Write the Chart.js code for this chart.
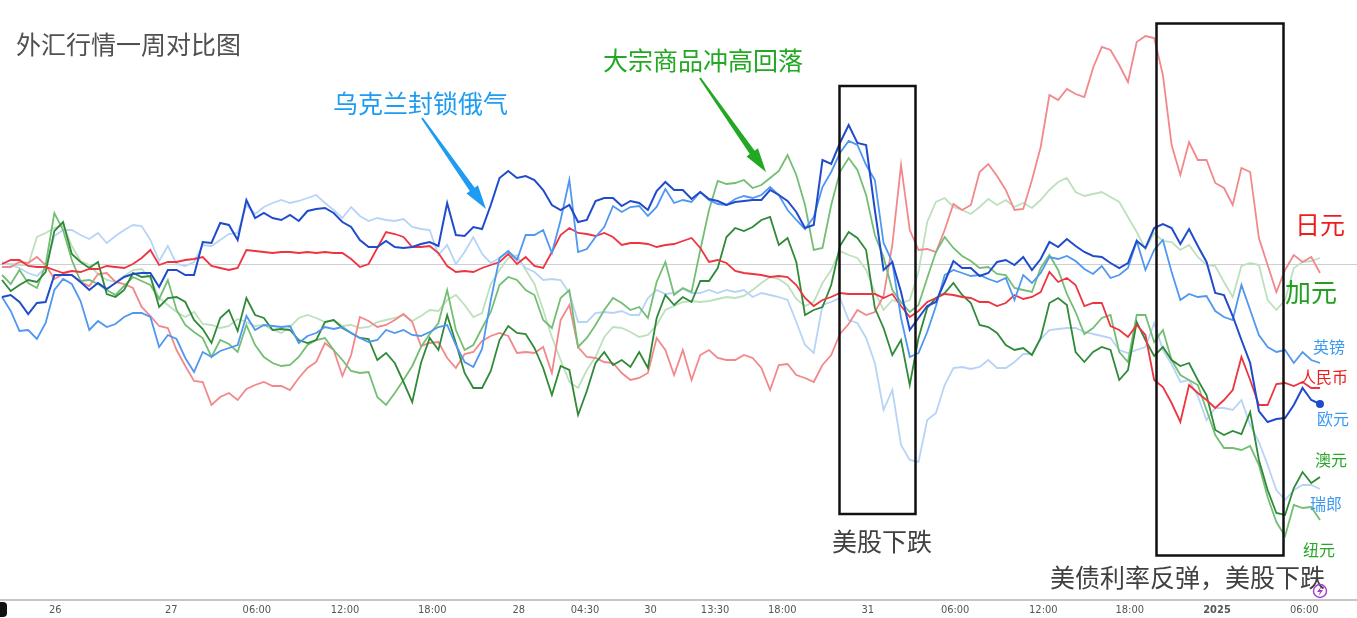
<!DOCTYPE html>
<html>
<head>
<meta charset="utf-8">
<script src="https://cdn.jsdelivr.net/npm/chart.js@4.4.1/dist/chart.umd.min.js"></script>
<style>
  html, body { margin: 0; padding: 0; background: #fff; }
  #wrap { position: relative; width: 1357px; height: 618px; }
</style>
</head>
<body>
<div id="wrap"><canvas id="fxChart"></canvas></div>
<script>
// x axis ticks (positions in 36-minute bars from the left edge)
const tickLabels = ['26', '27', '06:00', '12:00', '18:00', '28', '04:30', '30', '13:30', '18:00', '31', '06:00', '12:00', '18:00', '2025', '06:00'];
const tickAt = [6.1, 19.4, 29.2, 39.3, 49.3, 59.2, 66.8, 74.3, 81.7, 89.4, 99.2, 109.2, 119.3, 129.2, 139.2, 149.2];

// % change per bar
const eur = [-0.33,-0.31,-0.38,-0.50,-0.39,-0.38,-0.11,-0.11,-0.11,-0.18,
  -0.26,-0.19,-0.25,-0.19,-0.13,-0.10,-0.09,-0.09,-0.23,-0.06,
  -0.06,-0.11,-0.11,0.22,0.21,0.41,0.39,0.24,0.64,0.46,
  0.51,0.46,0.44,0.49,0.43,0.53,0.55,0.56,0.51,0.42,
  0.37,0.24,0.17,0.17,0.23,0.17,0.16,0.17,0.20,0.22,
  0.18,0.61,0.29,0.28,0.37,0.35,0.59,0.86,0.93,0.86,
  0.88,0.84,0.74,0.59,0.54,0.59,0.42,0.44,0.63,0.66,
  0.66,0.58,0.63,0.61,0.54,0.73,0.82,0.74,0.74,0.65,
  0.72,0.65,0.63,0.59,0.62,0.63,0.64,0.64,0.74,0.69,
  0.63,0.52,0.36,0.39,1.04,1.00,1.21,1.39,1.21,1.19,
  0.54,-0.06,0.02,-0.28,-0.66,-0.54,-0.42,-0.38,-0.18,0.03,
  -0.04,-0.04,-0.12,-0.09,0.02,0.04,-0.01,0.07,-0.06,0.05,
  0.22,0.17,0.25,0.18,0.12,0.08,0.07,0.01,-0.04,0.01,
  0.23,0.16,0.36,0.40,0.36,0.20,0.35,0.18,0.02,-0.29,
  -0.31,-0.52,-0.76,-0.99,-1.47,-1.58,-1.55,-1.54,-1.41,-1.24,
  -1.36,-1.40];

const gbp = [-0.33,-0.47,-0.67,-0.66,-0.75,-0.59,-0.26,-0.15,-0.20,-0.37,
  -0.66,-0.57,-0.63,-0.60,-0.53,-0.49,-0.49,-0.53,-0.83,-0.71,
  -0.75,-0.94,-1.08,-0.88,-0.93,-0.87,-0.84,-0.81,-0.52,-0.66,
  -0.61,-0.62,-0.63,-0.62,-0.79,-0.72,-0.69,-0.63,-0.65,-0.63,
  -0.69,-0.74,-0.78,-0.76,-0.66,-0.69,-0.66,-0.71,-0.72,-0.68,
  -0.63,-0.61,-0.81,-0.98,-1.03,-0.85,-0.36,0.06,0.13,0.04,
  0.29,0.29,0.34,0.11,0.44,0.84,0.12,0.15,0.27,0.37,
  0.58,0.52,0.57,0.58,0.48,0.57,0.75,0.61,0.64,0.62,
  0.72,0.64,0.60,0.59,0.65,0.68,0.66,0.69,0.77,0.69,
  0.54,0.44,0.35,0.47,0.77,0.92,1.11,1.23,1.19,0.99,
  0.84,0.21,0.02,-0.54,-0.93,-0.89,-0.68,-0.42,-0.11,-0.06,
  -0.09,-0.12,-0.11,-0.15,-0.18,-0.14,-0.36,-0.11,-0.19,-0.09,
  0.07,0.05,0.08,0.03,-0.05,-0.10,-0.02,-0.14,-0.11,-0.04,
  0.23,-0.06,0.14,0.24,-0.08,-0.36,-0.30,-0.33,-0.32,-0.47,
  -0.53,-0.56,-0.21,-0.46,-0.71,-0.83,-0.88,-0.86,-0.99,-0.88,
  -0.96,-0.99];

const chf = [0.02,-0.01,-0.04,-0.09,-0.12,-0.04,0.28,0.34,0.34,0.29,
  0.25,0.31,0.21,0.28,0.34,0.39,0.38,0.24,0.03,0.18,
  0.00,-0.02,0.02,0.19,0.18,0.24,0.30,0.31,0.59,0.50,
  0.57,0.61,0.64,0.61,0.63,0.66,0.69,0.61,0.54,0.46,
  0.57,0.48,0.43,0.46,0.44,0.43,0.45,0.37,0.35,0.34,
  0.09,0.19,0.00,0.12,0.27,0.10,0.01,0.06,0.12,0.06,
  -0.04,-0.08,-0.16,-0.15,-0.16,-0.29,-0.58,-0.58,-0.49,-0.48,
  -0.49,-0.47,-0.51,-0.51,-0.34,-0.26,-0.30,-0.29,-0.25,-0.29,
  -0.29,-0.26,-0.29,-0.26,-0.28,-0.26,-0.33,-0.29,-0.31,-0.33,
  -0.36,-0.58,-0.81,-0.89,-0.41,-0.38,-0.34,-0.56,-0.59,-0.74,
  -0.99,-1.46,-1.26,-1.81,-1.96,-1.98,-1.56,-1.49,-1.21,-1.04,
  -1.03,-1.05,-1.03,-0.96,-1.04,-1.04,-0.98,-0.90,-0.90,-0.75,
  -0.66,-0.65,-0.64,-0.64,-0.68,-0.70,-0.72,-0.74,-0.86,-0.89,
  -0.86,-0.83,-0.59,-0.86,-1.00,-1.18,-1.16,-1.32,-1.56,-1.44,
  -1.44,-1.46,-1.36,-1.61,-1.78,-2.01,-2.26,-2.36,-2.26,-2.21,
  -2.21,-2.25];

const cny = [0.00,0.04,0.04,-0.02,-0.03,-0.03,-0.06,-0.09,-0.07,-0.08,
  -0.05,-0.05,-0.02,-0.03,-0.04,0.00,0.06,0.14,-0.01,0.02,
  0.02,0.04,0.05,0.07,-0.02,-0.04,-0.06,-0.04,0.14,0.13,
  0.12,0.11,0.12,0.12,0.11,0.12,0.11,0.12,0.11,0.11,
  0.05,-0.03,0.00,0.16,0.32,0.30,0.27,0.17,0.17,0.18,
  0.11,-0.02,-0.08,-0.07,-0.08,-0.04,-0.01,0.02,0.10,0.00,
  0.07,-0.02,-0.04,0.12,0.29,0.36,0.31,0.30,0.28,0.31,
  0.27,0.19,0.21,0.21,0.20,0.17,0.19,0.20,0.23,0.26,
  0.16,0.02,0.04,0.01,-0.07,-0.09,-0.10,-0.11,-0.13,-0.12,
  -0.13,-0.21,-0.34,-0.42,-0.36,-0.33,-0.29,-0.30,-0.30,-0.30,
  -0.30,-0.34,-0.30,-0.42,-0.53,-0.47,-0.38,-0.34,-0.30,-0.31,
  -0.33,-0.34,-0.38,-0.38,-0.42,-0.39,-0.31,-0.35,-0.33,-0.28,
  -0.08,-0.18,-0.14,-0.21,-0.42,-0.39,-0.39,-0.62,-0.66,-0.73,
  -0.61,-0.71,-1.16,-1.23,-1.39,-1.58,-1.21,-1.29,-1.36,-1.44,
  -1.36,-1.26,-0.93,-1.16,-1.41,-1.41,-1.20,-1.19,-1.22,-1.18,
  -1.24,-1.24];

const jpy = [-0.03,-0.03,0.02,0.01,0.07,-0.01,-0.15,-0.10,-0.11,-0.18,
  -0.22,-0.10,-0.09,-0.18,-0.20,-0.24,-0.43,-0.52,-0.62,-0.64,
  -0.86,-1.02,-1.17,-1.18,-1.41,-1.33,-1.29,-1.36,-1.25,-1.21,
  -1.18,-1.22,-1.22,-1.26,-1.14,-1.04,-0.98,-0.79,-0.86,-1.12,
  -0.91,-0.53,-0.57,-0.63,-0.61,-0.56,-0.50,-0.58,-0.82,-0.79,
  -0.78,-0.94,-1.04,-0.90,-0.88,-0.77,-0.72,-0.69,-0.72,-0.89,
  -0.88,-0.89,-0.83,-1.09,-0.56,-0.41,-0.83,-0.93,-0.94,-0.98,
  -0.99,-1.09,-1.16,-1.14,-1.09,-0.74,-0.86,-1.11,-0.86,-1.16,
  -0.91,-0.86,-0.94,-0.96,-0.96,-0.91,-0.94,-1.04,-1.26,-1.01,
  -1.00,-1.11,-1.14,-1.18,-1.01,-0.91,-0.70,-0.60,-0.46,-0.51,
  -0.48,-0.32,0.19,0.99,0.34,0.14,0.15,0.12,0.34,0.60,
  0.54,0.59,0.92,1.00,0.88,0.74,0.54,0.55,0.84,1.17,
  1.69,1.64,1.75,1.70,1.67,1.96,2.17,2.14,1.99,1.82,
  2.22,2.28,2.26,1.89,1.19,0.89,1.22,1.04,1.04,0.81,
  0.76,0.59,0.96,0.92,0.26,-0.01,-0.28,-0.06,0.09,0.02,
  0.07,-0.09];

const aud = [-0.16,-0.27,-0.21,-0.16,-0.18,-0.08,0.33,0.42,0.10,0.02,
  -0.04,0.02,-0.30,-0.33,-0.26,-0.09,-0.13,-0.12,-0.43,-0.34,
  -0.33,-0.38,-0.56,-0.65,-0.79,-0.54,-0.46,-0.67,-0.34,-0.51,
  -0.54,-0.66,-0.65,-0.66,-0.76,-0.79,-0.76,-0.58,-0.56,-0.64,
  -0.69,-0.74,-0.75,-0.96,-0.89,-0.99,-1.18,-1.38,-0.99,-0.74,
  -0.86,-0.51,-0.79,-1.09,-1.24,-1.24,-1.07,-0.76,-0.62,-0.69,
  -0.70,-0.84,-1.04,-1.31,-1.02,-1.06,-1.51,-1.27,-0.99,-0.88,
  -1.01,-0.96,-1.03,-0.88,-1.04,-0.54,-0.31,-0.41,-0.33,-0.38,
  -0.17,-0.17,-0.04,0.27,0.36,0.33,0.37,0.44,0.47,0.19,
  0.26,0.02,-0.51,-0.46,-0.43,-0.21,0.18,0.32,0.26,0.14,
  -0.44,-0.64,-0.91,-0.76,-1.21,-0.74,-0.44,-0.34,-0.29,-0.19,
  -0.31,-0.39,-0.61,-0.63,-0.69,-0.81,-0.86,-0.84,-0.91,-0.74,
  -0.39,-0.34,-0.41,-0.88,-0.98,-0.88,-0.83,-0.86,-1.16,-1.06,
  -0.58,-0.76,-0.92,-0.83,-0.96,-1.02,-0.99,-1.16,-1.31,-1.66,
  -1.71,-1.67,-1.70,-1.48,-1.96,-2.26,-2.49,-2.51,-2.24,-2.08,
  -2.19,-2.13];

const nzd = [-0.11,-0.20,-0.06,-0.19,-0.24,-0.01,0.51,0.34,0.04,-0.17,
  -0.16,-0.20,-0.26,-0.31,-0.22,-0.13,-0.17,-0.21,-0.35,-0.16,
  -0.46,-0.61,-0.68,-0.74,-0.93,-0.76,-0.80,-0.88,-0.61,-0.81,
  -0.93,-0.99,-1.02,-1.01,-0.93,-0.81,-0.76,-0.74,-0.86,-0.96,
  -1.07,-1.09,-1.08,-1.33,-1.41,-1.29,-1.16,-1.02,-0.83,-0.70,
  -0.59,-0.26,-0.66,-0.86,-0.81,-0.64,-0.48,-0.21,-0.13,-0.16,
  -0.26,-0.31,-0.56,-0.64,-0.34,-0.26,-0.83,-0.74,-0.61,-0.46,
  -0.34,-0.39,-0.46,-0.43,-0.54,-0.18,0.02,-0.31,-0.24,-0.28,
  0.14,0.54,0.83,0.80,0.81,0.84,0.76,0.79,0.86,0.93,
  1.09,0.89,0.59,0.14,0.16,0.59,0.92,1.06,0.94,0.69,
  0.29,0.07,-0.26,-0.38,-0.48,-0.41,-0.14,0.12,0.27,0.16,
  0.08,0.03,-0.04,-0.03,-0.10,-0.11,-0.24,-0.26,-0.28,-0.04,
  0.09,-0.06,-0.30,-0.48,-0.70,-0.64,-0.54,-0.51,-0.88,-0.98,
  -0.51,-0.51,-0.78,-0.66,-0.96,-1.11,-1.16,-1.21,-1.46,-1.71,
  -1.84,-1.84,-1.86,-1.82,-2.01,-2.33,-2.58,-2.72,-2.41,-2.44,
  -2.43,-2.56];

const cad = [0.00,0.00,-0.01,-0.01,0.27,0.31,0.36,0.39,0.18,0.03,
  -0.01,-0.10,-0.16,-0.18,-0.12,-0.06,-0.05,-0.14,-0.34,-0.41,
  -0.48,-0.53,-0.48,-0.60,-0.61,-0.64,-0.62,-0.55,-0.58,-0.62,
  -0.61,-0.66,-0.69,-0.63,-0.54,-0.51,-0.54,-0.58,-0.56,-0.62,
  -0.61,-0.64,-0.63,-0.58,-0.56,-0.54,-0.51,-0.57,-0.52,-0.46,
  -0.47,-0.36,-0.31,-0.41,-0.53,-0.49,-0.20,-0.06,0.06,0.09,
  -0.06,-0.20,-0.46,-0.73,-0.96,-1.18,-1.24,-1.06,-0.93,-0.73,
  -0.63,-0.64,-0.68,-0.73,-0.71,-0.61,-0.46,-0.42,-0.38,-0.37,
  -0.38,-0.37,-0.35,-0.33,-0.34,-0.32,-0.26,-0.19,-0.13,-0.15,
  -0.21,-0.35,-0.42,-0.38,-0.19,-0.06,0.13,0.09,0.06,-0.06,
  -0.28,-0.46,-0.36,-0.39,-0.36,-0.08,0.42,0.62,0.66,0.57,
  0.54,0.50,0.57,0.65,0.59,0.64,0.57,0.61,0.56,0.64,
  0.74,0.82,0.86,0.72,0.68,0.70,0.72,0.67,0.62,0.47,
  0.32,0.15,0.31,0.23,0.22,0.14,0.19,0.07,-0.01,-0.02,
  -0.18,-0.33,-0.02,0.01,-0.01,-0.36,-0.46,-0.36,-0.04,0.02,
  0.03,0.06];

function pts(arr) {
  return arr.map((v, i) => ({ x: i, y: v }));
}

function line(label, arr, color, width, order) {
  return {
    label: label,
    data: pts(arr),
    borderColor: color,
    backgroundColor: color,
    borderWidth: width,
    pointRadius: 0,
    tension: 0,
    fill: false,
    order: order
  };
}

// plain arrow that widens toward its head
function arrow(ctx, x0, y0, x1, y1, color) {
  const dx = x1 - x0, dy = y1 - y0;
  const len = Math.sqrt(dx * dx + dy * dy);
  const ux = dx / len, uy = dy / len;
  const nx = -uy, ny = ux;
  const head = 24, hw = 7, w0 = 1, w1 = 3;
  const bx = x1 - ux * head, by = y1 - uy * head;
  ctx.save();
  ctx.fillStyle = color;
  ctx.beginPath();
  ctx.moveTo(x0 + nx * w0, y0 + ny * w0);
  ctx.lineTo(bx + nx * w1, by + ny * w1);
  ctx.lineTo(bx + nx * hw, by + ny * hw);
  ctx.lineTo(x1, y1);
  ctx.lineTo(bx - nx * hw, by - ny * hw);
  ctx.lineTo(bx - nx * w1, by - ny * w1);
  ctx.lineTo(x0 - nx * w0, y0 - ny * w0);
  ctx.closePath();
  ctx.fill();
  ctx.restore();
}

function text(ctx, str, x, y, size, color) {
  ctx.font = size + "px 'Noto Sans CJK SC', sans-serif";
  ctx.fillStyle = color;
  ctx.textAlign = 'left';
  ctx.textBaseline = 'middle';
  ctx.fillText(str, x, y);
}

const zeroLine = {
  id: 'zeroLine',
  beforeDatasetsDraw(chart) {
    const { ctx, chartArea } = chart;
    const y = Math.round(chart.scales.y.getPixelForValue(0)) + 0.5;
    ctx.save();
    ctx.strokeStyle = '#cfcfcf';
    ctx.lineWidth = 1;
    ctx.beginPath();
    ctx.moveTo(chartArea.left, y);
    ctx.lineTo(chartArea.right, y);
    ctx.stroke();
    ctx.restore();
  }
};

const notes = {
  id: 'notes',
  afterDraw(chart) {
    const ctx = chart.ctx;
    ctx.save();
    text(ctx, '外汇行情一周对比图', 16, 44, 25, '#505050');

    text(ctx, '乌克兰封锁俄气', 333, 103, 25, '#1e9cf2');
    arrow(ctx, 422, 118, 486, 209, '#1e9cf2');
    text(ctx, '大宗商品冲高回落', 603, 60, 25, '#22a822');
    arrow(ctx, 700, 78, 766, 172, '#22a822');

    ctx.strokeStyle = '#111';
    ctx.lineWidth = 2.5;
    ctx.strokeRect(839.5, 86, 76, 428);
    ctx.strokeRect(1156.5, 23.5, 127, 532);

    text(ctx, '美股下跌', 832, 541, 25, '#404040');
    text(ctx, '美债利率反弹，美股下跌', 1050, 577, 25, '#404040');

    text(ctx, '日元', 1295, 224, 25, '#ee1c1c');
    text(ctx, '加元', 1285, 292, 26, '#22a022');
    text(ctx, '英镑', 1313, 347, 16, '#3c9af2');
    text(ctx, '人民币', 1300, 377, 16, '#ee1c1c');
    text(ctx, '欧元', 1317, 419, 16, '#3c9af2');
    text(ctx, '澳元', 1315, 460, 16, '#2aa82a');
    text(ctx, '瑞郎', 1310, 504, 16, '#3c9af2');
    text(ctx, '纽元', 1303, 550, 16, '#2aa82a');

    // small marks along the time axis
    ctx.fillStyle = '#111';
    ctx.beginPath();
    ctx.roundRect(-4, 602, 11, 15, 4);
    ctx.fill();
    ctx.strokeStyle = '#a43cc8';
    ctx.lineWidth = 1.4;
    ctx.beginPath();
    ctx.arc(1320, 591, 6.5, 0, Math.PI * 2);
    ctx.stroke();
    ctx.fillStyle = '#a43cc8';
    ctx.beginPath();
    ctx.moveTo(1321.5, 586);
    ctx.lineTo(1317, 592);
    ctx.lineTo(1320, 592);
    ctx.lineTo(1318.5, 596);
    ctx.lineTo(1323, 590);
    ctx.lineTo(1320, 590);
    ctx.closePath();
    ctx.fill();
    ctx.restore();
  }
};

const ctx = document.getElementById('fxChart').getContext('2d');
const fxChart = new Chart(ctx, {
  type: 'line',
  data: {
    datasets: [
      Object.assign(line('欧元', eur, '#1f4bcc', 2, 1), {
        pointRadius: (c) => (c.dataIndex === eur.length - 1 ? 3 : 0)
      }),
      line('英镑', gbp, '#4f97f0', 1.8, 2),
      line('人民币', cny, '#ee3440', 1.8, 3),
      line('澳元', aud, '#2f8a38', 1.8, 4),
      line('纽元', nzd, '#74be74', 1.8, 5),
      line('日元', jpy, '#f2888b', 1.8, 6),
      line('瑞郎', chf, '#b7d4f7', 1.8, 7),
      line('加元', cad, '#bde0bd', 1.8, 8)
    ]
  },
  options: {
    responsive: true,
    maintainAspectRatio: false,
    animation: false,
    layout: { autoPadding: false, padding: { top: 14, left: 0, right: 0, bottom: 0 } },
    plugins: {
      legend: { display: false },
      title: { display: false },
      tooltip: { enabled: false }
    },
    scales: {
      x: {
        type: 'linear',
        min: -0.229,
        max: 155.239,
        grid: { display: false, drawTicks: false },
        border: { display: true, color: '#c6c6c6', width: 2 },
        afterBuildTicks: (scale) => {
          scale.ticks = tickAt.map((v) => ({ value: v }));
        },
        afterFit: (scale) => {
          scale.height = 18;
          scale.paddingLeft = 0;
          scale.paddingRight = 0;
        },
        ticks: {
          autoSkip: false,
          maxRotation: 0,
          padding: 4,
          color: '#555',
          font: (c) => ({
            family: "'Liberation Sans Narrow', 'DejaVu Sans Condensed', Roboto, sans-serif",
            size: 11,
            weight: c.index === 14 ? 'bold' : 'normal'
          }),
          callback: (value, index) => tickLabels[index]
        }
      },
      y: {
        min: -3.36,
        max: 2.5,
        grid: { display: false, drawTicks: false },
        border: { display: false },
        ticks: { display: false },
        afterFit: (scale) => {
          scale.width = 0;
          scale.paddingTop = 0;
          scale.paddingBottom = 0;
        }
      }
    }
  },
  plugins: [zeroLine, notes]
});
</script>
</body>
</html>
